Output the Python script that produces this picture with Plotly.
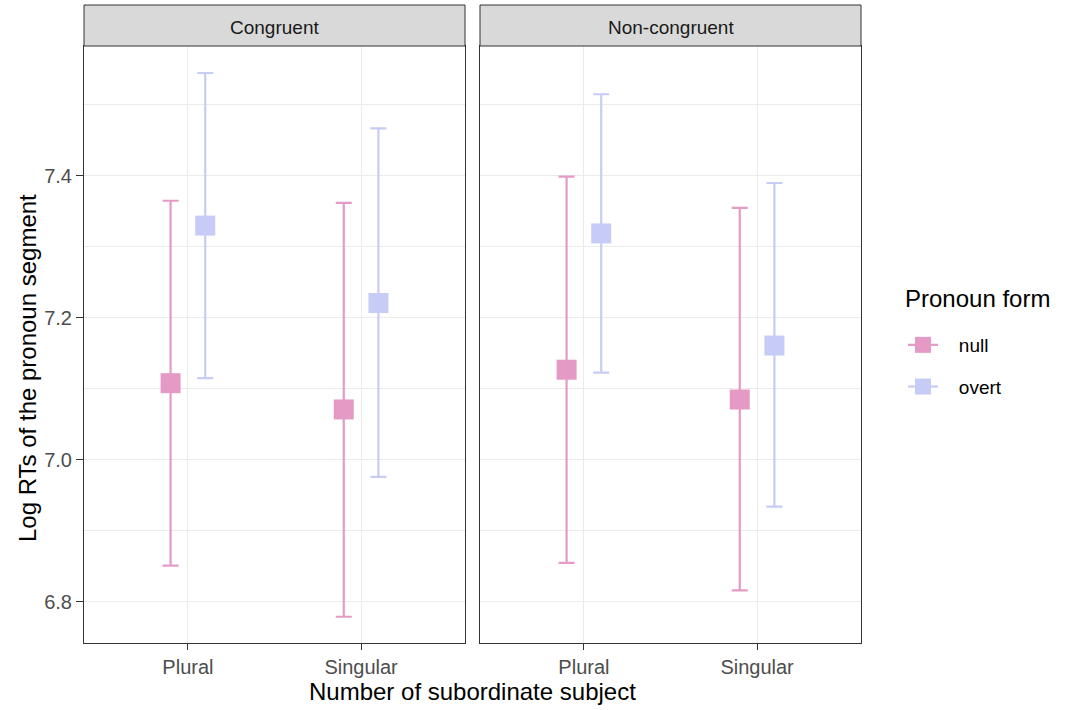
import plotly.graph_objects as go

panels = ["Congruent", "Non-congruent"]
categories = ["Plural", "Singular"]
forms = ["null", "overt"]

# Congruent
cong_null_mean = [7.108, 7.071]
cong_null_low = [6.851, 6.779]
cong_null_high = [7.365, 7.362]
cong_overt_mean = [7.330, 7.221]
cong_overt_low = [7.115, 6.976]
cong_overt_high = [7.545, 7.467]
# Non-congruent
nonc_null_mean = [7.127, 7.085]
nonc_null_low = [6.855, 6.816]
nonc_null_high = [7.399, 7.355]
nonc_overt_mean = [7.319, 7.161]
nonc_overt_low = [7.123, 6.934]
nonc_overt_high = [7.515, 7.390]

y_ticks = [6.8, 7.0, 7.2, 7.4]
y_minor = [6.9, 7.1, 7.3, 7.5]

colors = {"null": "#E59AC6", "overt": "#C6CCF5"}
dodge = {"null": -0.1, "overt": 0.1}

data = {
    ("Congruent", "null"): (cong_null_mean, cong_null_low, cong_null_high),
    ("Congruent", "overt"): (cong_overt_mean, cong_overt_low, cong_overt_high),
    ("Non-congruent", "null"): (nonc_null_mean, nonc_null_low, nonc_null_high),
    ("Non-congruent", "overt"): (nonc_overt_mean, nonc_overt_low, nonc_overt_high),
}

FONT = "Liberation Sans, Arial, Helvetica, sans-serif"

fig = go.Figure()
axes = {"Congruent": ("x", "y"), "Non-congruent": ("x2", "y2")}
for p in panels:
    xa, ya = axes[p]
    for f in forms:
        m, lo, hi = data[(p, f)]
        xs = [i + 1 + dodge[f] for i in range(len(categories))]
        fig.add_trace(go.Scatter(
            x=xs, y=m, mode="markers", xaxis=xa, yaxis=ya,
            marker=dict(symbol="square", size=20, color=colors[f], line=dict(width=0)),
            error_y=dict(type="data", symmetric=False,
                         array=[h - v for h, v in zip(hi, m)],
                         arrayminus=[v - l for v, l in zip(m, lo)],
                         color=colors[f], thickness=2.2, width=8),
            showlegend=False, name=f, hoverinfo="skip"))

# legend keys
for i, f in enumerate(forms):
    fig.add_trace(go.Scatter(
        x=[None], y=[None], mode="lines+markers", name="\u00a0\u00a0\u00a0" + f, legendgroup=f,
        marker=dict(symbol="square", size=16, color=colors[f]),
        line=dict(color=colors[f], width=2.2)))

ymin, ymax = 6.742, 7.583
yrange = [ymin, ymax]
common_x = dict(range=[0.4, 2.6], tickvals=[1, 2], ticktext=categories,
                showgrid=True, gridcolor="#ebebeb", gridwidth=1.2,
                showline=True, mirror=True, linecolor="#333333", linewidth=1,
                ticks="outside", ticklen=6, tickcolor="#333333",
                tickfont=dict(size=20, color="#4d4d4d", family=FONT),
                zeroline=False, fixedrange=True)
common_y = dict(range=yrange, tickvals=y_ticks, ticktext=[f"{v:.1f}" for v in y_ticks],
                showgrid=True, gridcolor="#ebebeb", gridwidth=1.2,
                minor=dict(tickvals=y_minor, showgrid=True, gridcolor="#ebebeb",
                           gridwidth=1.2, ticks=""),
                showline=True, mirror=True, linecolor="#333333", linewidth=1,
                zeroline=False, domain=[0, 597 / 638])

W_plot = 777
fig.update_layout(
    width=1066, height=710,
    margin=dict(l=84, r=205, t=5, b=67),
    paper_bgcolor="white", plot_bgcolor="white",
    font=dict(family=FONT, color="black"),
    xaxis=dict(domain=[0, 381 / W_plot], **common_x),
    xaxis2=dict(domain=[396 / W_plot, 1], **common_x),
    yaxis=dict(ticks="outside", ticklen=7, tickcolor="#333333",
               tickfont=dict(size=20, color="#4d4d4d", family=FONT), **common_y),
    yaxis2=dict(anchor="x2", matches="y", showticklabels=False, ticks="", **common_y),
    legend=dict(x=(903 - 84) / W_plot, xanchor="left", y=(643 - 326) / 638, yanchor="top",
                font=dict(size=19, color="black", family=FONT),
                tracegroupgap=14, bgcolor="rgba(0,0,0,0)"),
    showlegend=True,
)

# legend title
fig.add_annotation(text="Pronoun form", xref="paper", yref="paper",
                   x=(903 - 84) / W_plot, y=(643 - 298) / 638, showarrow=False,
                   xanchor="left", yanchor="middle",
                   font=dict(size=24, color="black", family=FONT))

# strips
for p, xref in zip(panels, ["x domain", "x2 domain"]):
    fig.add_shape(type="rect", xref=xref, yref="paper", x0=0, x1=1,
                  y0=597 / 638, y1=1, fillcolor="#d9d9d9",
                  line=dict(color="#333333", width=1), layer="above")
    fig.add_annotation(text=p, xref=xref, yref="paper", x=0.5,
                       y=(1 + 597 / 638) / 2 - 0.003, showarrow=False, yanchor="middle",
                       font=dict(size=19, color="#1a1a1a", family=FONT))

# axis titles
fig.add_annotation(text="Number of subordinate subject", xref="paper", yref="paper",
                   x=0.5, y=(643 - 692) / 638, showarrow=False, yanchor="middle",
                   font=dict(size=24, color="black", family=FONT))
fig.add_annotation(text="Log RTs of the pronoun segment", xref="paper", yref="paper",
                   x=(27 - 84) / W_plot, y=(643 - 368) / 638, showarrow=False,
                   textangle=-90, xanchor="center", yanchor="middle",
                   font=dict(size=24, color="black", family=FONT))

fig.write_html("out.html")
